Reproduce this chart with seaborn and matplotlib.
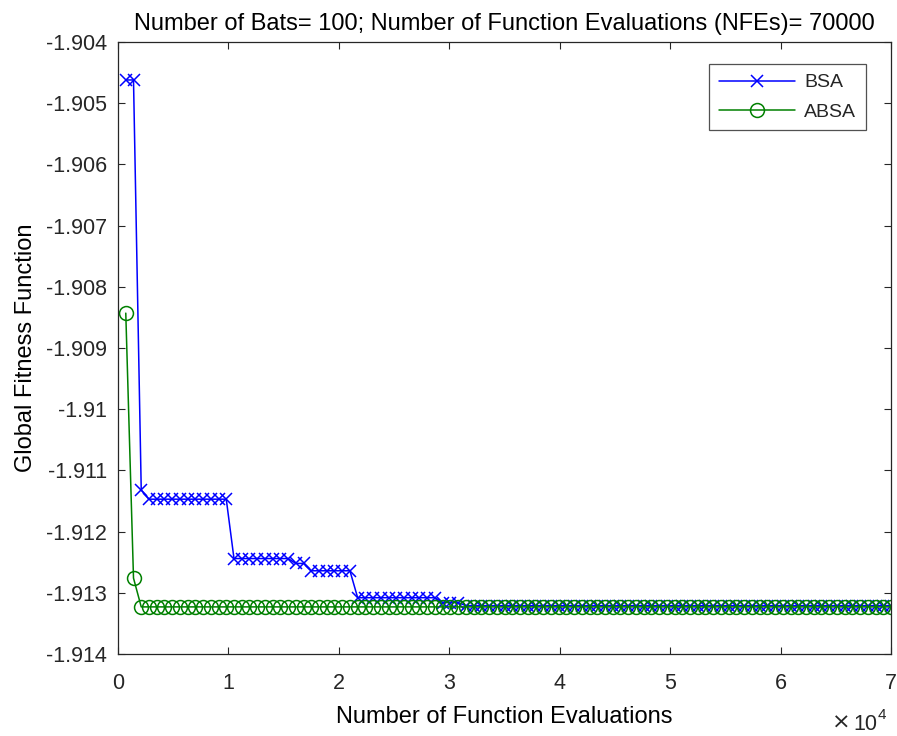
import numpy as np
import pandas as pd
import matplotlib
matplotlib.use("Agg")
import matplotlib.pyplot as plt
from matplotlib.ticker import FuncFormatter, MultipleLocator
import seaborn as sns

# Function evaluations: 100 iterations x 700 evaluations each
nfe_step = 700
n_iter = 100
nfe = np.arange(1, n_iter + 1) * nfe_step

# Best fitness per iteration, stored as (level, number of iterations at that level)
bsa_levels = [-1.90462, -1.91132, -1.91147, -1.91244, -1.91252, -1.91264, -1.91308, -1.91316, -1.91321]
bsa_counts = [2, 1, 11, 8, 2, 6, 11, 3, 56]
absa_levels = [-1.90843, -1.91276, -1.91323]
absa_counts = [1, 1, 98]

bsa = np.repeat(bsa_levels, bsa_counts)
absa = np.repeat(absa_levels, absa_counts)

df = pd.DataFrame({"NFE": nfe, "BSA": bsa, "ABSA": absa})

sns.set_theme(style="white")
plt.rcParams["font.family"] = ["Liberation Sans", "DejaVu Sans"]

W, H = 897, 736
fig = plt.figure(figsize=(W / 100, H / 100), dpi=100)
ax = fig.add_axes([0.1316, 0.1114, 0.8617, 0.8315])

ink = "#262626"
sns.lineplot(data=df, x="NFE", y="BSA", ax=ax, color="#0000ff", marker="x",
             markersize=9, mec="#0000ff", mew=1.1, lw=1.1, label="BSA")
sns.lineplot(data=df, x="NFE", y="ABSA", ax=ax, color="#008000", marker="o",
             markersize=10, mec="#008000", mfc="none", mew=1.1, lw=1.1, label="ABSA")

ax.set_xlim(0, 70000)
ax.set_ylim(-1.914, -1.904)
ax.xaxis.set_major_locator(MultipleLocator(10000))
ax.yaxis.set_major_locator(MultipleLocator(0.001))
ax.xaxis.set_major_formatter(FuncFormatter(lambda v, p: f"{v / 1e4:g}"))
ax.yaxis.set_major_formatter(FuncFormatter(lambda v, p: f"{round(v, 6):g}"))

ax.tick_params(direction="in", length=5, width=0.8, colors=ink, labelsize=15.5,
               top=True, right=True, bottom=True, left=True)
ax.tick_params(axis="x", pad=14)
ax.tick_params(axis="y", pad=8)
for s in ax.spines.values():
    s.set_color(ink)
    s.set_linewidth(0.9)

ax.set_xlabel("Number of Function Evaluations", fontsize=17, color="black", labelpad=8)
ax.set_ylabel("Global Fitness Function", fontsize=17, color="black", labelpad=6)
ax.set_title("Number of Bats= 100; Number of Function Evaluations (NFEs)= 70000",
             fontsize=17, color="black", pad=9)

# x-axis exponent label (×10^4) at the lower right
fig.text(851 / W, 1 - 729 / H, "\u00d7", ha="right", va="baseline",
         fontsize=16, color=ink, family="DejaVu Sans")
fig.text(877 / W, 1 - 730 / H, "10", ha="right", va="baseline",
         fontsize=15.5, color=ink)
fig.text(878 / W, 1 - 719 / H, "4", ha="left", va="baseline",
         fontsize=11, color=ink)

leg = ax.legend(loc="upper right", bbox_to_anchor=(0.9677, 0.964), borderaxespad=0,
                fontsize=14, handlelength=3.9, frameon=True, fancybox=False,
                borderpad=0.5, labelspacing=0.6, handletextpad=0.5)
leg.get_frame().set_edgecolor(ink)
leg.get_frame().set_linewidth(0.9)

fig.savefig("out.png", dpi=100, facecolor="white")
